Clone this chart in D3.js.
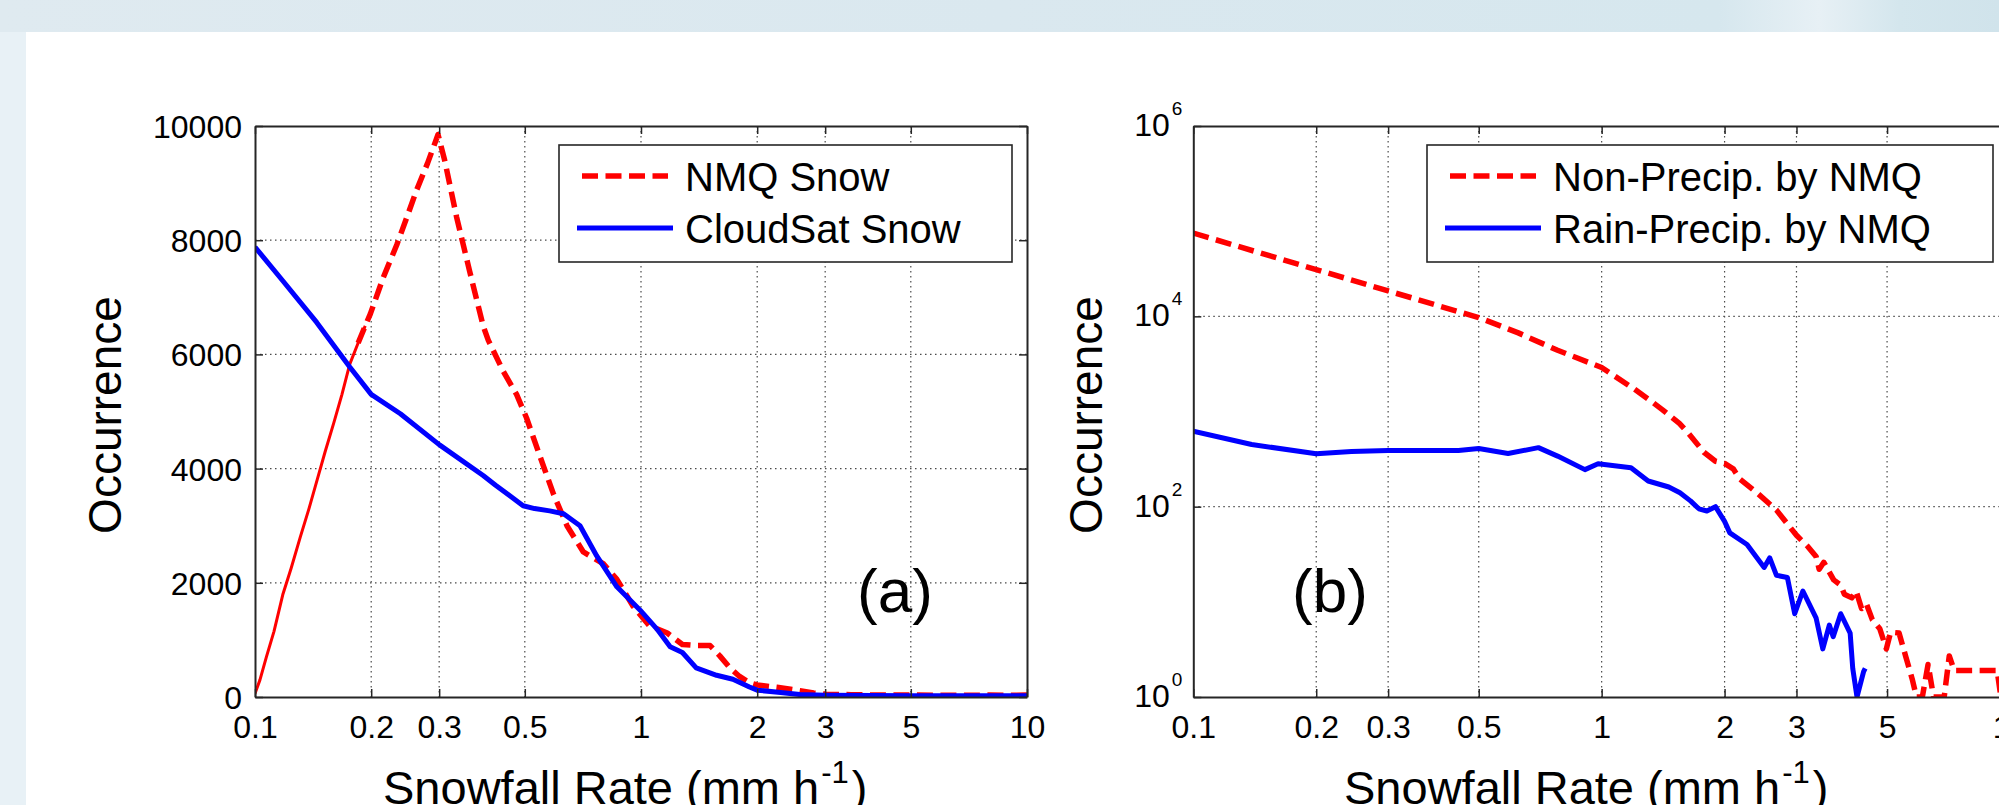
<!DOCTYPE html>
<html>
<head>
<meta charset="utf-8">
<script src="https://cdn.jsdelivr.net/npm/d3@7"></script>
<style>
  body { margin: 0; overflow: hidden; background: #fff; }
  svg { display: block; }
</style>
</head>
<body>
<svg id="fig" width="1999" height="805"></svg>
<script>
// ---- data ----
var xTickVals = [0.1, 0.2, 0.3, 0.5, 1, 2, 3, 5, 10];
var xTickText = ["0.1", "0.2", "0.3", "0.5", "1", "2", "3", "5", "10"];
var yTicksA = [0, 2000, 4000, 6000, 8000, 10000];
var yTicksB = [1, 1e2, 1e4, 1e6];
var yExpB = ["0", "2", "4", "6"];

// (a) NMQ snow vs CloudSat snow
var nmqRate = [0.1, 0.103, 0.107, 0.112, 0.118, 0.124, 0.131, 0.138, 0.145, 0.152, 0.160, 0.168, 0.176, 0.185,
  0.193, 0.199, 0.215, 0.233, 0.248, 0.262, 0.280, 0.298, 0.310, 0.333, 0.360, 0.390, 0.402, 0.440, 0.476,
  0.505, 0.547, 0.594, 0.643, 0.709, 0.760, 0.800, 0.866, 0.954, 1.05, 1.17, 1.28, 1.40, 1.51, 1.60, 1.70,
  1.80, 1.91, 2.00, 2.25, 2.58, 2.80, 3.00, 3.5, 4.0, 5.0, 6.0, 7.0, 8.0, 9.0, 10];
var nmqSnow = [60, 300, 700, 1150, 1790, 2250, 2800, 3300, 3810, 4300, 4800, 5300, 5830, 6200,
  6500, 6710, 7350, 7920, 8420, 8870, 9350, 9850, 9400, 8400, 7450, 6500, 6250, 5700, 5300,
  4890, 4220, 3545, 3000, 2540, 2420, 2330, 2060, 1590, 1250, 1120, 920, 900, 900, 720, 510,
  360, 250, 210, 170, 110, 70, 50, 40, 35, 35, 30, 30, 35, 30, 35];

var csRate = [0.1, 0.118, 0.1445, 0.176, 0.2, 0.238, 0.30, 0.39, 0.42, 0.495, 0.53, 0.58, 0.63, 0.695,
  0.768, 0.866, 0.995, 1.10, 1.19, 1.28, 1.39, 1.57, 1.73, 1.91, 2.0, 2.3, 2.58, 3.0, 4.0, 5.0, 7.0, 10];
var csSnow = [7880, 7290, 6560, 5780, 5300, 4960, 4420, 3880, 3710, 3350, 3300, 3260, 3210, 3000,
  2470, 1930, 1520, 1190, 880, 780, 510, 380, 310, 175, 120, 80, 42, 30, 25, 22, 20, 20];

// (b) non-precip vs rain-precip by NMQ
var nonRate = [0.1, 0.2, 0.3, 0.5, 0.625, 0.78, 1.0, 1.2, 1.31, 1.41, 1.55, 1.63, 1.78, 1.9, 2.0, 2.1, 2.18,
  2.4, 2.68, 3.0, 3.2, 3.35, 3.41, 3.5, 3.7, 3.85, 3.93, 4.1, 4.2, 4.33, 4.45, 4.6, 4.8, 4.98, 5.1, 5.35,
  5.55, 5.76, 5.9, 6.1, 6.3, 6.5, 6.9, 7.1, 7.3, 9.3, 9.5, 10];
var nonPrecip = [75000, 31000, 18500, 9700, 6700, 4400, 2900, 1730, 1320, 1040, 750, 594, 373, 300, 285, 250, 195,
  140, 92, 50, 38, 30, 22, 26, 17, 15, 12, 11, 13, 8.5, 9.5, 6.5, 5.2, 3.2, 4.8, 4.7,
  2.7, 1.55, 1, 1, 2.2, 1, 1, 2.7, 1.9, 1.9, 1, 1];

var rainRate = [0.1, 0.139, 0.2, 0.244, 0.3, 0.446, 0.5, 0.59, 0.70, 0.78, 0.91, 0.98, 1.18, 1.3, 1.46,
  1.555, 1.65, 1.73, 1.81, 1.9, 2.0, 2.06, 2.27, 2.5, 2.58, 2.68, 2.85, 2.97, 3.11, 3.35, 3.48, 3.61,
  3.69, 3.85, 4.06, 4.12, 4.22, 4.38, 4.42];
var rainPrecip = [620, 450, 360, 380, 390, 390, 408, 362, 417, 340, 245, 282, 257, 186, 161,
  140, 115, 95, 90, 100, 70, 53, 40, 23, 29, 19, 18, 7.5, 13, 6.8, 3.2, 5.7,
  4.3, 7.5, 4.7, 2, 1, 1.85, 2];

var legendA = ["NMQ Snow", "CloudSat Snow"];
var legendB = ["Non-Precip. by NMQ", "Rain-Precip. by NMQ"];

// ---- drawing ----
var FONT = '"Liberation Sans", Arial, Helvetica, sans-serif';
var RED = "#ff0000", BLUE = "#0000ff", AXIS = "#262626";
var DASH = "16,7.5";

var svg = d3.select("#fig").attr("font-family", FONT);
var defs = svg.append("defs");

// page background: light blue band on top and strip on the left
var band = defs.append("linearGradient").attr("id", "band");
[[0, "#dfeaf0"], [0.5, "#dae8ef"], [0.86, "#d6e7ee"], [0.91, "#e7f0f5"], [0.95, "#d4e6ed"], [1, "#d0e3eb"]]
  .forEach(function(s) { band.append("stop").attr("offset", s[0]).attr("stop-color", s[1]); });
svg.append("rect").attr("width", 1999).attr("height", 805).attr("fill", "#fff");
svg.append("rect").attr("width", 1999).attr("height", 32).attr("fill", "url(#band)");
svg.append("rect").attr("y", 32).attr("width", 26).attr("height", 773).attr("fill", "#e8f1f6");

function styleAxis(sel) {
  sel.attr("font-family", FONT).attr("font-size", 32);
  sel.select(".domain").attr("stroke", AXIS).attr("stroke-width", 2);
  sel.selectAll(".tick line").attr("stroke", AXIS).attr("stroke-width", 1.5);
  sel.selectAll(".tick text").attr("fill", "#000");
}

function drawPanel(cfg) {
  var x = d3.scaleLog().domain([0.1, 10]).range([cfg.left, cfg.right]);
  var y = cfg.y;
  var bottom = y.range()[0], top = y.range()[1];
  var g = svg.append("g");

  defs.append("clipPath").attr("id", "clip-" + cfg.id)
    .append("rect")
    .attr("x", cfg.left).attr("y", top)
    .attr("width", cfg.right - cfg.left).attr("height", bottom - top);

  // dotted grid
  var grid = g.append("g")
    .attr("stroke", "#4a4a4a").attr("stroke-width", 1.2).attr("stroke-dasharray", "1.5,3.5");
  grid.selectAll("line.gx").data(xTickVals.slice(1, -1)).join("line")
    .attr("x1", function(d) { return x(d); }).attr("x2", function(d) { return x(d); })
    .attr("y1", top).attr("y2", bottom);
  grid.selectAll("line.gy").data(cfg.yTicks.slice(1, -1)).join("line")
    .attr("y1", function(d) { return y(d); }).attr("y2", function(d) { return y(d); })
    .attr("x1", cfg.left).attr("x2", cfg.right);

  // series
  var plot = g.append("g").attr("clip-path", "url(#clip-" + cfg.id + ")");
  var line = d3.line()
    .x(function(d) { return x(d[0]); })
    .y(function(d) { return y(Math.max(d[1], y.domain()[0])); });

  cfg.series.forEach(function(s) {
    var pts = d3.zip(s.rate, s.vals);
    var main = pts;
    if (s.thinBelow) {
      // dense noisy start renders as a thin ragged line in the original
      var k = pts.findIndex(function(p) { return p[0] > s.thinBelow; });
      plot.append("path").datum(pts.slice(0, k + 1))
        .attr("fill", "none").attr("stroke", s.color).attr("stroke-width", 3)
        .attr("stroke-linejoin", "round").attr("d", line);
      main = pts.slice(k - 1);
    }
    plot.append("path").datum(main)
      .attr("fill", "none")
      .attr("stroke", s.color)
      .attr("stroke-width", s.width)
      .attr("stroke-dasharray", s.dash)
      .attr("stroke-linejoin", "round")
      .attr("d", line);
  });

  // axes box with inward ticks
  g.append("g").attr("transform", "translate(0," + bottom + ")")
    .call(d3.axisBottom(x).tickValues(xTickVals).tickFormat(function(d, i) { return xTickText[i]; })
      .tickSizeInner(-8).tickSizeOuter(0).tickPadding(18))
    .call(styleAxis);
  g.append("g").attr("transform", "translate(0," + top + ")")
    .call(d3.axisTop(x).tickValues(xTickVals).tickFormat("").tickSizeInner(-8).tickSizeOuter(0))
    .call(styleAxis);
  g.append("g").attr("transform", "translate(" + cfg.right + ",0)")
    .call(d3.axisRight(y).tickValues(cfg.yTicks).tickFormat("").tickSizeInner(-8).tickSizeOuter(0))
    .call(styleAxis);
  var yl = g.append("g").attr("transform", "translate(" + cfg.left + ",0)")
    .call(d3.axisLeft(y).tickValues(cfg.yTicks).tickFormat(cfg.yFormat || "")
      .tickSizeInner(-8).tickSizeOuter(0).tickPadding(13))
    .call(styleAxis);
  yl.selectAll(".tick text").attr("dy", "0.36em");

  if (cfg.yExp) {
    // 10^n labels
    var lab = g.append("g").attr("font-size", 32).attr("text-anchor", "end");
    cfg.yTicks.forEach(function(v, i) {
      var t = lab.append("text").attr("x", cfg.left - 11).attr("y", y(v) + 10);
      t.append("tspan").text("10");
      t.append("tspan").attr("dx", 2).attr("dy", -21).attr("font-size", 19).text(cfg.yExp[i]);
    });
  }

  // axis titles
  g.append("text")
    .attr("transform", "translate(" + cfg.yLabelX + ",415) rotate(-90)")
    .attr("text-anchor", "middle").attr("font-size", 46)
    .text("Occurrence");
  var xt = g.append("text").attr("x", cfg.xLabelX).attr("y", 804).attr("font-size", 47);
  xt.append("tspan").text("Snowfall Rate (mm h");
  xt.append("tspan").attr("font-size", 31).attr("dx", 2).attr("dy", -21).text("-1");
  xt.append("tspan").attr("dx", 3).attr("dy", 21).text(")");

  // panel tag
  g.append("text").attr("x", cfg.tagX).attr("y", 612).attr("font-size", 62).text(cfg.tag);

  // legend
  var lg = g.append("g");
  lg.append("rect")
    .attr("x", cfg.legend[0]).attr("y", 145)
    .attr("width", cfg.legend[1] - cfg.legend[0]).attr("height", 117)
    .attr("fill", "#fff").attr("stroke", AXIS).attr("stroke-width", 1.6);
  cfg.series.forEach(function(s, i) {
    var ly = 176 + i * 52;
    var lx = cfg.legend[0] + (s.dash ? 23 : 18);
    lg.append("line")
      .attr("x1", lx).attr("x2", cfg.legend[0] + (s.dash ? 109 : 114))
      .attr("y1", ly).attr("y2", ly)
      .attr("stroke", s.color).attr("stroke-width", s.width)
      .attr("stroke-dasharray", s.dash);
    lg.append("text")
      .attr("x", cfg.legend[0] + 126).attr("y", ly + 15)
      .attr("font-size", 40)
      .text(cfg.labels[i]);
  });
}

drawPanel({
  id: "a", left: 255, right: 1027,
  y: d3.scaleLinear().domain([0, 10000]).range([697, 126]),
  yTicks: yTicksA,
  yFormat: d3.format("d"),
  yLabelX: 121, xLabelX: 383, tagX: 857, tag: "(a)",
  legend: [559, 1012], labels: legendA,
  series: [
    { rate: nmqRate, vals: nmqSnow, color: RED, dash: DASH, width: 5.5, thinBelow: 0.185 },
    { rate: csRate, vals: csSnow, color: BLUE, dash: null, width: 5 }
  ]
});

drawPanel({
  id: "b", left: 1193.3, right: 2010,
  y: d3.scaleLog().domain([1, 1e6]).range([697, 126]),
  yTicks: yTicksB,
  yExp: yExpB,
  yLabelX: 1102, xLabelX: 1344, tagX: 1292, tag: "(b)",
  legend: [1427, 1993], labels: legendB,
  series: [
    { rate: nonRate, vals: nonPrecip, color: RED, dash: DASH, width: 5.5 },
    { rate: rainRate, vals: rainPrecip, color: BLUE, dash: null, width: 5 }
  ]
});
</script>
</body>
</html>
